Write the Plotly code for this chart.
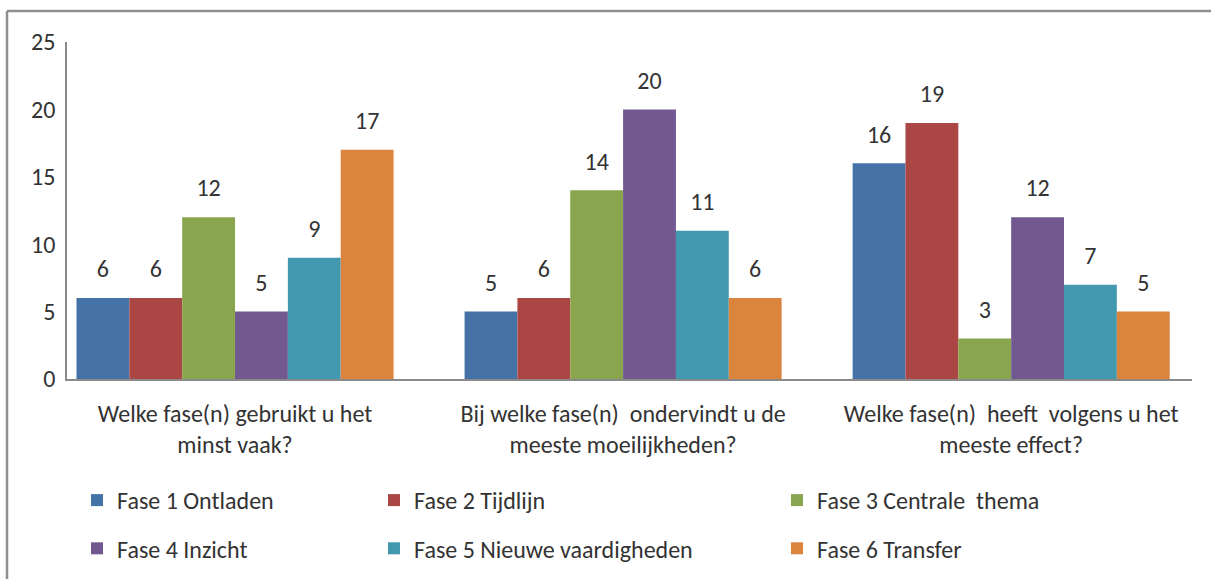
import plotly.graph_objects as go

# Survey answers per phase
questions = [
    "Welke fase(n) gebruikt u het<br>minst vaak?",
    "Bij welke fase(n)  ondervindt u de<br>meeste moeilijkheden?",
    "Welke fase(n)  heeft  volgens u het<br>meeste effect?",
]
phases = [
    "Fase 1 Ontladen",
    "Fase 2 Tijdlijn",
    "Fase 3 Centrale  thema",
    "Fase 4 Inzicht",
    "Fase 5 Nieuwe vaardigheden",
    "Fase 6 Transfer",
]
fase1 = [6, 5, 16]
fase2 = [6, 6, 19]
fase3 = [12, 14, 3]
fase4 = [5, 20, 12]
fase5 = [9, 11, 7]
fase6 = [17, 6, 5]
series = [fase1, fase2, fase3, fase4, fase5, fase6]

colors = ["#4572A7", "#AA4643", "#89A54E", "#71588F", "#4198AF", "#DB843D"]
FONT = "Carlito, Calibri, Lato, sans-serif"
TXT = "#333333"
FS = 24
BORDER = dict(color="#8f8f8f", width=2.5)


# plot area in page pixels: x 67..1192, y 42..379
def px_x(p):
    return (p - 67) / 1125


def px_y(p):
    return (379 - p) / 337


# phase -> legend column (Excel lays the legend out 3 per row)
legend_of = ["legend", "legend2", "legend3", "legend", "legend2", "legend3"]

fig = go.Figure()
for name, vals, col, lg in zip(phases, series, colors, legend_of):
    fig.add_trace(go.Bar(
        x=questions, y=vals, name=name, marker_color=col, marker_line_width=0,
        legend=lg, legendgroup=name,
    ))
# value labels, grouped like the bars; invisible markers push the text up a bit
for vals in series:
    fig.add_trace(go.Scatter(
        x=questions, y=vals, mode="markers+text", text=[str(v) for v in vals],
        textposition="top center", marker=dict(size=22, opacity=0),
        textfont=dict(family=FONT, size=FS, color=TXT),
        showlegend=False, hoverinfo="skip", cliponaxis=False,
    ))

leg = dict(orientation="v", yanchor="top", xanchor="left", y=px_y(478),
           font=dict(family=FONT, size=FS, color=TXT), tracegroupgap=14,
           bgcolor="rgba(0,0,0,0)")
fig.update_layout(
    width=1211, height=579,
    paper_bgcolor="white", plot_bgcolor="white",
    font=dict(family=FONT, size=FS, color=TXT),
    # fixed plot area; legends must not push it
    margin=dict(l=67, r=19, t=42, b=200, autoexpand=False),
    barmode="group", bargap=0.183, bargroupgap=0,
    scattermode="group",
    legend=dict(leg, x=px_x(77)),
    legend2=dict(leg, x=px_x(374)),
    legend3=dict(leg, x=px_x(777)),
    # chart frame: only its top and left edges fall inside the picture
    shapes=[
        dict(type="line", xref="paper", yref="paper", x0=px_x(7), x1=px_x(1211),
             y0=px_y(11), y1=px_y(11), line=BORDER),
        dict(type="line", xref="paper", yref="paper", x0=px_x(7), x1=px_x(7),
             y0=px_y(11), y1=px_y(579), line=BORDER),
    ],
)
fig.update_xaxes(range=[-0.433, 2.466], showline=True, linecolor="#8a8a8a", linewidth=1.5,
                 showgrid=False, ticks="", ticklabelstandoff=12,
                 tickfont=dict(family=FONT, size=FS, color=TXT))
fig.update_yaxes(range=[0, 25], tickvals=[0, 5, 10, 15, 20, 25], showline=True,
                 linecolor="#8a8a8a", linewidth=1.5, showgrid=False, zeroline=False,
                 ticks="", ticklabelstandoff=5, tickfont=dict(family=FONT, size=FS, color=TXT))

# the page body has an 8px default margin; drop it (and any scrollbar) so the chart sits at 0,0
fig.write_html("out.html", config={"displayModeBar": False},
               post_script="document.body.style.margin='0';"
                           "document.body.style.overflow='hidden';"
                           "document.documentElement.style.overflow='hidden';")
